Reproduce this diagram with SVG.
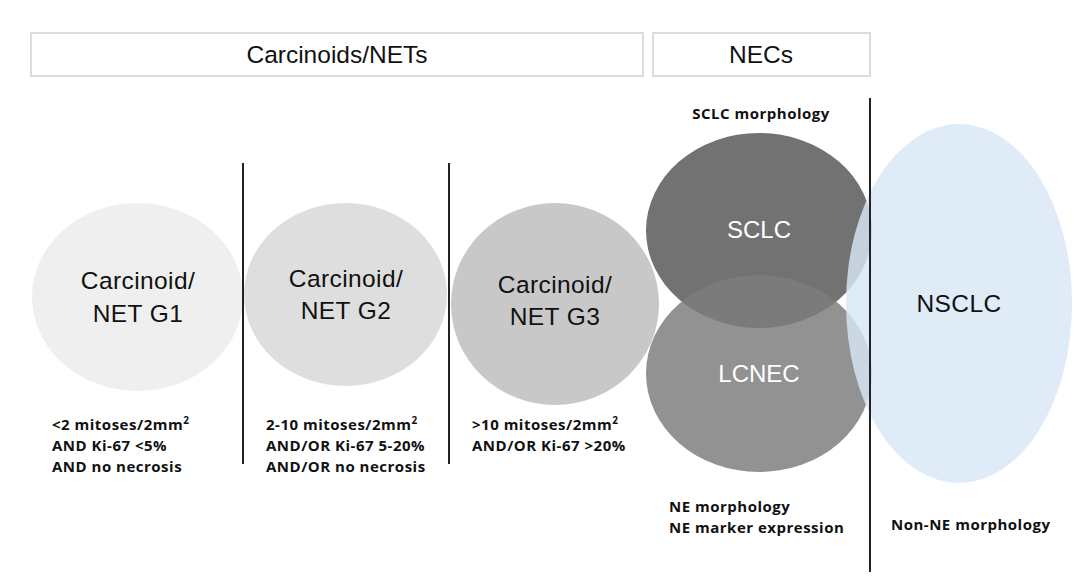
<svg xmlns="http://www.w3.org/2000/svg" width="1080" height="583" viewBox="0 0 1080 583">
<style>
.box{fill:#fff;stroke:#cfcfcf;stroke-width:1.5}
.hdr{font-family:"Liberation Sans",Arial,sans-serif;font-size:24.5px;fill:#111;text-anchor:middle}
.lbl{font-family:"Liberation Sans",Arial,sans-serif;font-size:24.5px;letter-spacing:0.4px;fill:#111;text-anchor:middle}
.wl{font-family:"Liberation Sans",Arial,sans-serif;font-size:24px;fill:#fff;text-anchor:middle}
.sm{font-family:"Open Sans","Liberation Sans",Arial,sans-serif;font-size:15px;font-weight:bold;letter-spacing:0.5px;fill:#111}
.div{stroke:#222;stroke-width:2}
</style>
<rect width="1080" height="583" fill="#fff"/>
<g id="hdr-nets"><rect class="box" x="31" y="33" width="612" height="43"/><text class="hdr" x="337" y="63">Carcinoids/NETs</text></g>
<g id="hdr-necs"><rect class="box" x="653" y="33" width="217" height="43"/><text class="hdr" x="761" y="63">NECs</text></g>
<g id="g1"><ellipse cx="137.5" cy="297" rx="105.5" ry="94" fill="#efefef"/><text class="lbl" x="138" y="289">Carcinoid/</text><text class="lbl" x="138" y="322">NET G1</text>
<text class="sm" x="52" y="430">&lt;2 mitoses/2mm<tspan dy="-6" font-size="10">2</tspan></text><text class="sm" x="52" y="451">AND Ki-67 &lt;5%</text><text class="sm" x="52" y="472">AND no necrosis</text></g>
<g id="g2"><ellipse cx="345.5" cy="294.5" rx="101.5" ry="91.5" fill="#dedede"/><text class="lbl" x="346" y="287">Carcinoid/</text><text class="lbl" x="346" y="319">NET G2</text>
<text class="sm" x="266" y="430">2-10 mitoses/2mm<tspan dy="-6" font-size="10">2</tspan></text><text class="sm" x="266" y="451">AND/OR Ki-67 5-20%</text><text class="sm" x="266" y="472">AND/OR no necrosis</text></g>
<g id="g3"><ellipse cx="555" cy="304" rx="104" ry="101" fill="#c8c8c8"/><text class="lbl" x="555" y="293">Carcinoid/</text><text class="lbl" x="555" y="325">NET G3</text>
<text class="sm" x="472" y="430">&gt;10 mitoses/2mm<tspan dy="-6" font-size="10">2</tspan></text><text class="sm" x="472" y="451">AND/OR Ki-67 &gt;20%</text></g>
<g id="sclc"><ellipse cx="759" cy="230.5" rx="113" ry="97.5" fill="#727272"/><text class="wl" x="759" y="238">SCLC</text><text class="sm" x="761" y="119" text-anchor="middle">SCLC morphology</text></g>
<g id="lcnec"><ellipse cx="759" cy="373.5" rx="113" ry="98.5" fill="#7d7d7d" fill-opacity="0.84"/><text class="wl" x="759" y="382">LCNEC</text><text class="sm" x="669" y="512">NE morphology</text><text class="sm" x="669" y="533">NE marker expression</text></g>
<g id="nsclc"><ellipse cx="959" cy="303.5" rx="113" ry="179.5" fill="#d9e7f6" fill-opacity="0.82"/><text class="lbl" x="959" y="312" font-size="24" letter-spacing="0">NSCLC</text><text class="sm" x="891" y="530">Non-NE morphology</text></g>
<g id="connectors"><line class="div" x1="243" y1="163" x2="243" y2="464"/><line class="div" x1="449" y1="163" x2="449" y2="464"/><line class="div" x1="870" y1="98" x2="870" y2="572"/></g>
</svg>
